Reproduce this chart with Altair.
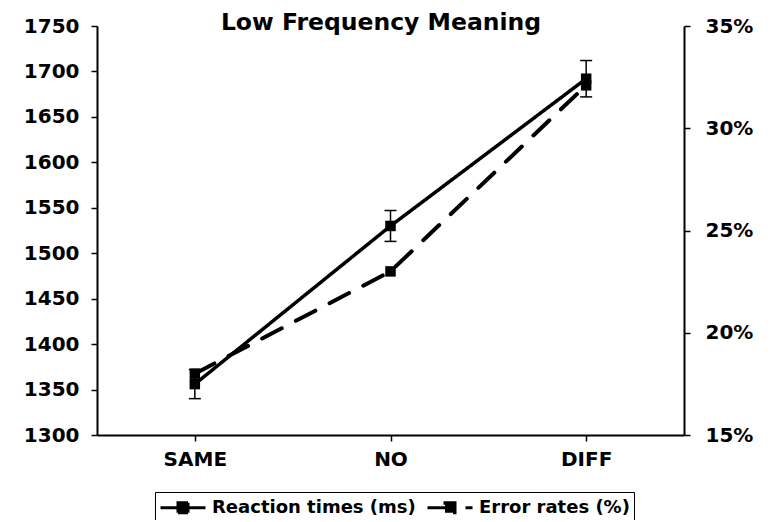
import altair as alt
import pandas as pd

conditions = ["SAME", "NO", "DIFF"]
rt_values = [1356, 1530, 1692]
rt_sem = [16, 17, 20]
er_values = [18.0, 23.0, 32.1]
rt_ticks = [1300, 1350, 1400, 1450, 1500, 1550, 1600, 1650, 1700, 1750]
er_ticks = [15, 20, 25, 30, 35]
series_names = ["Reaction times (ms)", "Error rates (%)"]

rt_df = pd.DataFrame({
    "cond": conditions,
    "rt": rt_values,
    "lo": [v - e for v, e in zip(rt_values, rt_sem)],
    "hi": [v + e for v, e in zip(rt_values, rt_sem)],
    "series": series_names[0],
})
er_df = pd.DataFrame({"cond": conditions, "er": er_values, "series": series_names[1]})

FONT = "DejaVu Sans"

x_enc = alt.X(
    "cond:N", sort=conditions,
    scale=alt.Scale(type="point", padding=0.5),
    axis=alt.Axis(title=None, labelAngle=0, labelPadding=8, tickSize=6),
)

legend_path = "M-1,0H3.5M0.75,-0.5H1.75V0.5H0.75Z"
dash = alt.StrokeDash(
    "series:N",
    scale=alt.Scale(domain=series_names, range=[[1, 0], [22, 16]]),
    legend=alt.Legend(
        title=None, orient="none", legendX=58, legendY=466, direction="horizontal",
        strokeColor="black", fillColor="white", padding=4,
        labelFont=FONT, labelFontSize=18, labelFontWeight="bold", labelColor="black",
        labelLimit=400,
        symbolType=legend_path, symbolSize=400, symbolStrokeWidth=3,
        symbolFillColor="black", symbolStrokeColor="black", labelOffset=30,
        columnPadding=5,
    ),
)

rt_axis = alt.Axis(values=rt_ticks, orient="left", title=None, grid=False, labelPadding=12,
                   tickSize=6, format="d")
rt_scale = alt.Scale(domain=[1300, 1750], nice=False, zero=False)

rt_line = alt.Chart(rt_df).mark_line(color="black", strokeWidth=3.5).encode(
    x=x_enc, y=alt.Y("rt:Q", scale=rt_scale, axis=rt_axis), strokeDash=dash
)
rt_pts = alt.Chart(rt_df).mark_square(color="black", size=110, opacity=1).encode(
    x=x_enc, y=alt.Y("rt:Q", scale=rt_scale, axis=rt_axis)
)
rt_bar = alt.Chart(rt_df).mark_rule(color="black", strokeWidth=1.5).encode(
    x=x_enc, y=alt.Y("lo:Q", scale=rt_scale, axis=rt_axis), y2="hi:Q"
)
rt_cap_lo = alt.Chart(rt_df).mark_tick(color="black", thickness=1.5, size=12, opacity=1).encode(
    x=x_enc, y=alt.Y("lo:Q", scale=rt_scale, axis=rt_axis)
)
rt_cap_hi = alt.Chart(rt_df).mark_tick(color="black", thickness=1.5, size=12, opacity=1).encode(
    x=x_enc, y=alt.Y("hi:Q", scale=rt_scale, axis=rt_axis)
)
rt_layer = alt.layer(rt_bar, rt_cap_lo, rt_cap_hi, rt_line, rt_pts)

er_axis = alt.Axis(values=er_ticks, orient="right", title=None, grid=False, labelPadding=15,
                   tickSize=6, labelExpr="datum.value + '%'")
er_scale = alt.Scale(domain=[15, 35], nice=False, zero=False)
er_line = alt.Chart(er_df).mark_line(color="black", strokeWidth=4, strokeCap="round").encode(
    x=x_enc, y=alt.Y("er:Q", scale=er_scale, axis=er_axis), strokeDash=dash
)
er_pts = alt.Chart(er_df).mark_square(color="black", size=110, opacity=1).encode(
    x=x_enc, y=alt.Y("er:Q", scale=er_scale, axis=er_axis)
)
er_layer = alt.layer(er_line, er_pts)

chart = alt.layer(rt_layer, er_layer).resolve_scale(y="independent").properties(
    width=587, height=409,
    background="white",
    autosize=alt.AutoSizeParams(type="none"),
    padding={"left": 89, "top": 18, "right": 81, "bottom": 85},
    title=alt.TitleParams(
        "Low Frequency Meaning", font=FONT, fontSize=23.5, fontWeight="bold", color="black",
        anchor="middle", offset=-37, baseline="alphabetic", dx=-9.5,
    ),
).configure_axis(
    domainColor="black", domainWidth=2, tickColor="black", tickWidth=1.5,
    labelColor="black", labelFont=FONT, labelFontSize=20, labelFontWeight="bold",
).configure_view(stroke=None)

chart.save("out.html", embed_options={"renderer": "svg", "actions": False})
